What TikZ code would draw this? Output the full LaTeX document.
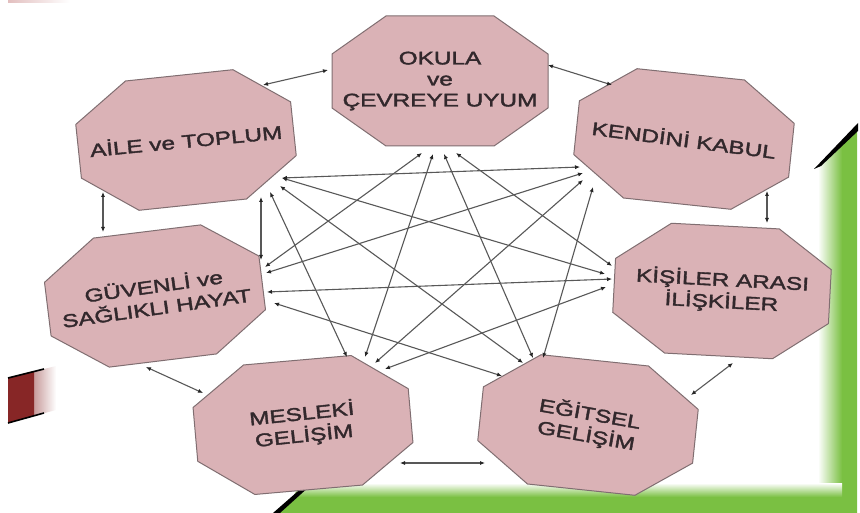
\documentclass[tikz,border=0pt]{standalone}
\usepackage{fontspec}
\newfontfamily\boxfont[FakeStretch=1.33,FakeBold=2]{Liberation Sans}
\usetikzlibrary{arrows.meta}
\definecolor{octfill}{RGB}{218,178,182}
\definecolor{octline}{RGB}{128,110,113}
\definecolor{octtextc}{RGB}{50,40,44}
\definecolor{linkc}{RGB}{88,88,88}
\definecolor{greenband}{RGB}{122,192,66}
\definecolor{redband}{RGB}{135,38,38}
\tikzset{
  octshape/.style={fill=octfill, draw=octline, line width=1pt, line join=round},
  octtext/.style={font=\boxfont\fontsize{18.3}{22}\selectfont, text=octtextc, align=center, inner sep=0pt},
  link/.style={draw=linkc, line width=1.1pt,
    {Latex[length=5pt,width=4.2pt,color=black!85]}-{Latex[length=5pt,width=4.2pt,color=black!85]}},
}
\newcommand{\octagonbox}[6]{%
  \begin{scope}[shift={(#2,#3)}, rotate=#4]
    \draw[octshape] (-54,-65) -- (54,-65) -- (108,-27) -- (108,27) -- (54,65) -- (-54,65) -- (-108,27) -- (-108,-27) -- cycle;
  \end{scope}
  \node[octtext, rotate=#5] (#1) at (#2,#3) {#6};
}
\begin{document}
\begin{tikzpicture}[x=1pt,y=-1pt]
\useasboundingbox (0,0) rectangle (860,513);
\fill[white] (0,0) rectangle (860,513);
% --- decorations ---
\shade[left color=black!45!red!25, right color=white] (8,0) rectangle (70,3);
\shade[left color=redband, right color=white] (8,378) -- (56,366) -- (56,410) -- (8,423) -- cycle;
\fill[redband] (8,378) -- (34,371) -- (34,416) -- (8,423) -- cycle;
\draw[black, line width=1.6pt] (8,378) -- (44,369);
\draw[black, line width=1.6pt] (8,423) -- (44,413);
% green frame
\shade[left color=white, right color=greenband] (818,166) -- (842,142) -- (842,497) -- (818,497) -- cycle;
\fill[greenband] (842,142) -- (857,128) -- (857,513) -- (842,513) -- cycle;
\shade[top color=white, bottom color=greenband] (300,483) -- (842,483) -- (842,497) -- (293,497) -- cycle;
\fill[greenband] (293,497) -- (842,497) -- (842,513) -- (275,513) -- cycle;
\fill[black] (814,169) -- (858,123) -- (858,131) -- (821,166) -- cycle;
\fill[black] (273,513) -- (305,485) -- (311,485) -- (280,513) -- cycle;
% --- boxes ---
\octagonbox{okula}{440}{81}{0}{0}{OKULA\\[-1pt]ve\\[-1pt]ÇEVREYE UYUM}
\octagonbox{aile}{186}{140}{6}{5.5}{AİLE ve TOPLUM}
\octagonbox{kendini}{684}{139}{-6}{-7.5}{KENDİNİ KABUL}
\octagonbox{guvenli}{155}{296}{7}{8}{GÜVENLİ ve\\SAĞLIKLI HAYAT}
\octagonbox{kisiler}{722}{291}{-3}{-3}{KİŞİLER ARASI\\İLİŞKİLER}
\octagonbox{mesleki}{303}{425}{5}{6}{MESLEKİ\\GELİŞİM}
\octagonbox{egitsel}{588}{425}{-6}{-10}{EĞİTSEL\\GELİŞİM}
% --- ports ---
\coordinate (pAO) at (263,85);  \coordinate (pOA) at (328,70);
\coordinate (pOKE) at (548,65); \coordinate (pKEO) at (612,85);
\coordinate (pKEK) at (767,191); \coordinate (pKKE) at (767,223);
\coordinate (pKE) at (733,363); \coordinate (pEK) at (691,395);
\coordinate (pEM) at (485,463); \coordinate (pME) at (400,463);
\coordinate (pMG) at (203,393); \coordinate (pGM) at (146,367);
\coordinate (pGA) at (103,232); \coordinate (pAG) at (103,192);
\coordinate (pAGi) at (261,197); \coordinate (pGAi) at (261,260);
\coordinate (O1) at (422,153); \coordinate (O2) at (433,154); \coordinate (O3) at (444,154); \coordinate (O4) at (456,153);
\coordinate (A1) at (282,178); \coordinate (A2) at (280,186); \coordinate (A3) at (270,192);
\coordinate (G2) at (265,267); \coordinate (G3) at (266,273); \coordinate (G4) at (267,292); \coordinate (G5) at (274,303);
\coordinate (M1) at (347,357); \coordinate (M2) at (365,357); \coordinate (M3) at (375,363); \coordinate (M4) at (385,369);
\coordinate (E1) at (502,376); \coordinate (E2) at (523,363); \coordinate (E3) at (533,358); \coordinate (E4) at (543,358);
\coordinate (KE1) at (580,167); \coordinate (KE2) at (583,173); \coordinate (KE3) at (583,180); \coordinate (KE4) at (593,187);
\coordinate (K1) at (612,266); \coordinate (K2) at (605,274); \coordinate (K3) at (612,279); \coordinate (K4) at (606,287);
% --- perimeter links ---
\draw[link] (pAO) -- (pOA);
\draw[link] (pOKE) -- (pKEO);
\draw[link] (pKEK) -- (pKKE);
\draw[link] (pKE) -- (pEK);
\draw[link] (pEM) -- (pME);
\draw[link] (pMG) -- (pGM);
\draw[link] (pGA) -- (pAG);
\draw[link] (pAGi) -- (pGAi);
% --- internal links ---
\draw[link] (O1) -- (G2);
\draw[link] (O2) -- (M2);
\draw[link] (O3) -- (E3);
\draw[link] (O4) -- (K1);
\draw[link] (A1) -- (KE1);
\draw[link] (A1) -- (K2);
\draw[link] (A2) -- (E2);
\draw[link] (A3) -- (M1);
\draw[link] (G3) -- (KE2);
\draw[link] (G4) -- (K3);
\draw[link] (G5) -- (E1);
\draw[link] (M3) -- (KE3);
\draw[link] (M4) -- (K4);
\draw[link] (E4) -- (KE4);
\end{tikzpicture}
\end{document}
